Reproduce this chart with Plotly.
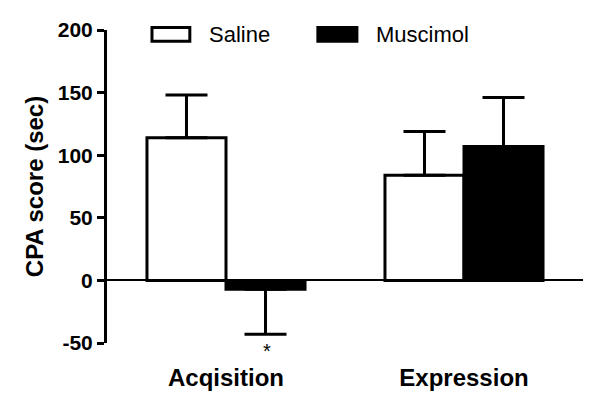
import plotly.graph_objects as go

categories = ["Acqisition", "Expression"]
saline_mean = [114, 84]
saline_sem_up = [34, 35]
muscimol_mean = [-7, 107]
muscimol_sem_up = [0, 39]
muscimol_sem_down = [36, 0]
series_names = ["Saline", "Muscimol"]
y_ticks = [-50, 0, 50, 100, 150, 200]
y_tick_labels = ["-50", "0", "50", "100", "150", "200"]

FONT = "Liberation Sans, Arial, sans-serif"

fig = go.Figure()
fig.add_trace(go.Bar(
    x=categories, y=saline_mean, name=series_names[0],
    marker=dict(color="white", line=dict(color="black", width=3)),
    error_y=dict(type="data", symmetric=False, array=saline_sem_up,
                 arrayminus=[0, 0], color="black", thickness=3, width=21),
    showlegend=False,
))
fig.add_trace(go.Bar(
    x=categories, y=muscimol_mean, name=series_names[1],
    marker=dict(color="black", line=dict(color="black", width=3)),
    error_y=dict(type="data", symmetric=False, array=muscimol_sem_up,
                 arrayminus=muscimol_sem_down, color="black", thickness=3, width=21),
    showlegend=False,
))

# significance marker
fig.add_annotation(x=categories[0], y=muscimol_mean[0] - muscimol_sem_down[0],
                   xshift=41, yshift=-4, yanchor="top", text="*", showarrow=False,
                   font=dict(family=FONT, size=20, color="black"))

# custom legend
legend_items = [(series_names[0], "white", 0.0945, 0.174, 0.210),
                (series_names[1], "black", 0.443, 0.525, 0.561)]
for name, fill, x0, x1, xt in legend_items:
    fig.add_shape(type="rect", xref="paper", yref="paper",
                  x0=x0, x1=x1, y0=0.964, y1=1.008,
                  fillcolor=fill, line=dict(color="black", width=3))
    fig.add_annotation(xref="paper", yref="paper", x=xt, y=0.986,
                       xanchor="left", yanchor="middle", text=name, showarrow=False,
                       font=dict(family=FONT, size=22, color="black"))

fig.update_layout(
    width=600, height=400,
    margin=dict(l=99, r=25, t=22, b=65),
    paper_bgcolor="white", plot_bgcolor="white",
    barmode="group", bargap=0.336, bargroupgap=0,
    font=dict(family=FONT, color="black"),
)
fig.update_xaxes(
    automargin=False,
    showline=False, showgrid=False, ticks="",
    tickfont=dict(family=FONT, size=24, color="black", weight="bold"),
    ticklabelstandoff=18,
)
fig.update_yaxes(
    automargin=False,
    range=[-50, 200], tickvals=y_ticks, ticktext=y_tick_labels,
    showline=True, linecolor="black", linewidth=3,
    ticks="outside", ticklen=7, tickwidth=3, tickcolor="black",
    showgrid=False, zeroline=True, zerolinecolor="black", zerolinewidth=2,
    tickfont=dict(family=FONT, size=21, color="black", weight="bold"),
    title=dict(text="CPA score (sec)", standoff=8,
               font=dict(family=FONT, size=24, color="black", weight="bold")),
)

fig.write_html("out.html")
